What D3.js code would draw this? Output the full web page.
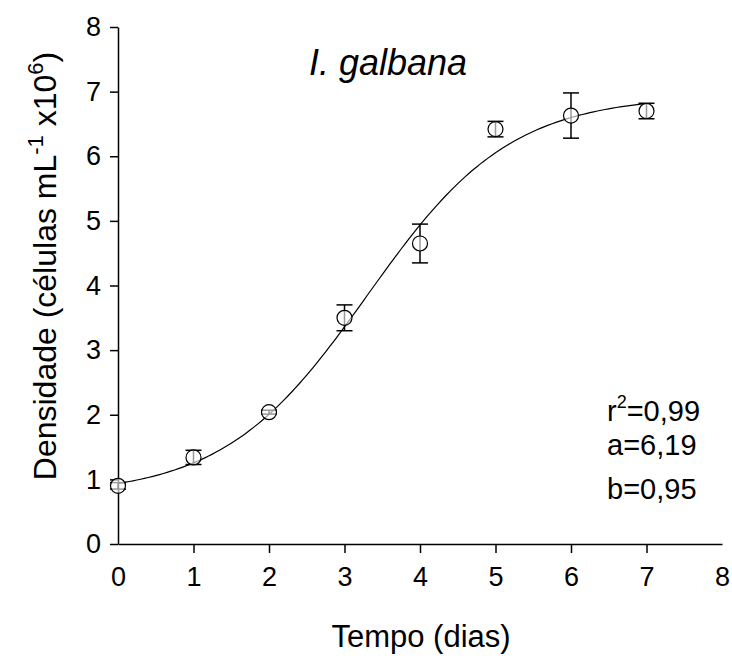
<!DOCTYPE html>
<head>
  <meta charset="utf-8">
  <title>I. galbana - curva de crescimento</title>
  <script src="https://d3js.org/d3.v7.min.js"></script>
  <style>
    body { margin: 0; background: #fff; }
    svg text { font-family: "Liberation Sans", Arial, sans-serif; fill: #000; }
    .axis path, .axis line { stroke: #000; stroke-width: 1.5px; }
    .axis text { font-size: 27px; }
  </style>
</head>
<body>
  <svg width="732" height="661"></svg>
  <script>
    // dias de cultivo e densidade media (celulas mL-1 x10^6)
    const dias      = [0, 1, 2, 3, 4, 5, 6, 7];
    const densidade = [0.90, 1.34, 2.04, 3.50, 4.65, 6.42, 6.63, 6.70];
    const desvio    = [0.05, 0.11, 0.03, 0.20, 0.30, 0.12, 0.35, 0.12];
    const xTicks    = [0, 1, 2, 3, 4, 5, 6, 7, 8];
    const yTicks    = [0, 1, 2, 3, 4, 5, 6, 7, 8];
    const stats     = ["=0,99", "a=6,19", "b=0,95"];

    // parametros do ajuste sigmoidal
    const a = 6.19, b = 0.95, x0 = 3.3, y0 = 0.75;

    const svg = d3.select("svg"),
      margin = {top: 27, left: 118, right: 10, bottom: 117},
      x = d3.scaleLinear().domain([0, 8]).range([margin.left, 722]),
      y = d3.scaleLinear().domain([0, 8]).range([544, margin.top]);

    // eixo x: marcas so de 1 a 7
    const gx = svg.append("g")
      .attr("class", "axis")
      .attr("transform", `translate(0,${y(0)})`)
      .call(d3.axisBottom(x).tickValues(xTicks).tickSize(9).tickSizeOuter(0).tickPadding(14));
    gx.selectAll(".tick line").filter(d => d === 0 || d === 8).remove();

    const gy = svg.append("g")
      .attr("class", "axis")
      .attr("transform", `translate(${x(0)},0)`)
      .call(d3.axisLeft(y).tickValues(yTicks).tickSize(8).tickSizeOuter(0).tickPadding(9));

    // curva ajustada
    const fit = t => y0 + a / (1 + Math.exp(-(t - x0) / b));
    const xs = d3.range(0, 7.001, 0.05);
    svg.append("path")
      .datum(xs)
      .attr("fill", "none")
      .attr("stroke", "#000")
      .attr("stroke-width", 1.2)
      .attr("d", d3.line().x(d => x(d)).y(d => y(fit(d))));

    // barras de erro
    const pts = dias.map((d, i) => ({d, v: densidade[i], e: desvio[i]}));
    const eb = svg.append("g").attr("stroke", "#000").attr("stroke-width", 1.5);
    eb.selectAll(".v").data(pts).enter().append("line")
      .attr("x1", p => x(p.d)).attr("x2", p => x(p.d))
      .attr("y1", p => y(p.v - p.e)).attr("y2", p => y(p.v + p.e));
    eb.selectAll(".top").data(pts).enter().append("line")
      .attr("x1", p => x(p.d) - 8).attr("x2", p => x(p.d) + 8)
      .attr("y1", p => y(p.v + p.e)).attr("y2", p => y(p.v + p.e));
    eb.selectAll(".bot").data(pts).enter().append("line")
      .attr("x1", p => x(p.d) - 8).attr("x2", p => x(p.d) + 8)
      .attr("y1", p => y(p.v - p.e)).attr("y2", p => y(p.v - p.e));

    svg.selectAll(".pt").data(pts).enter().append("circle")
      .attr("cx", p => x(p.d))
      .attr("cy", p => y(p.v))
      .attr("r", 7.5)
      .attr("fill", "#fff")
      .attr("fill-opacity", 0.6)
      .attr("stroke", "#000")
      .attr("stroke-width", 1.2);

    // titulo
    svg.append("text")
      .attr("x", 388).attr("y", 75)
      .attr("text-anchor", "middle")
      .style("font-size", "36px").style("font-style", "italic")
      .text("I. galbana");

    // titulos dos eixos
    svg.append("text")
      .attr("x", 421).attr("y", 647)
      .attr("text-anchor", "middle")
      .style("font-size", "31px")
      .text("Tempo (dias)");

    const yl = svg.append("text")
      .attr("transform", "translate(56,266) rotate(-90)")
      .attr("text-anchor", "middle")
      .style("font-size", "32px");
    yl.append("tspan").text("Densidade (células mL");
    yl.append("tspan").attr("dy", -13).style("font-size", "22px").text("-1");
    yl.append("tspan").attr("dy", 13).text(" x10");
    yl.append("tspan").attr("dy", -13).style("font-size", "22px").text("6");
    yl.append("tspan").attr("dy", 13).text(")");

    // estatisticas do ajuste
    const st = svg.append("g").style("font-size", "29px");
    const r2 = st.append("text").attr("x", 607).attr("y", 421);
    r2.append("tspan").text("r");
    r2.append("tspan").attr("dy", -13).style("font-size", "18px").text("2");
    r2.append("tspan").attr("dy", 13).text(stats[0]);
    st.append("text").attr("x", 607).attr("y", 455).text(stats[1]);
    st.append("text").attr("x", 607).attr("y", 499).text(stats[2]);
  </script>
</body>
